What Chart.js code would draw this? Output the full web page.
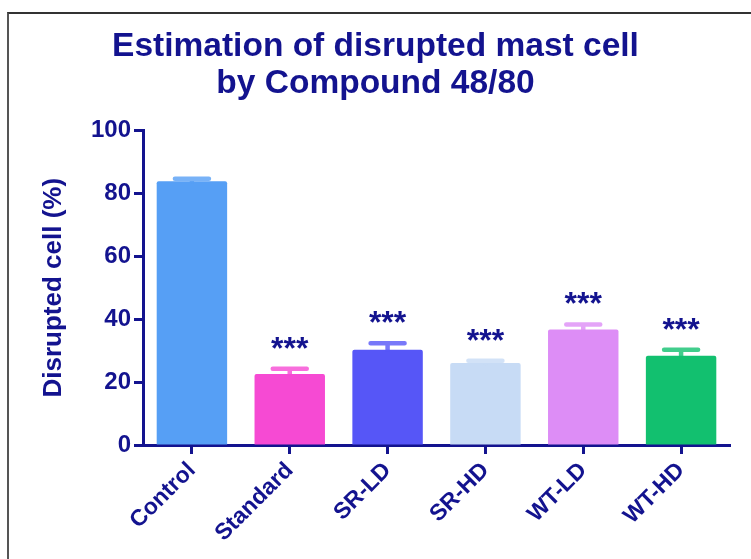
<!DOCTYPE html>
<html>
<head>
<meta charset="utf-8">
<script src="https://cdn.jsdelivr.net/npm/chart.js@4/dist/chart.umd.min.js"></script>
<style>
  html, body { margin: 0; padding: 0; background: #fff; }
  #wrap { position: relative; width: 751px; height: 559px; overflow: hidden; }
  #frame { position: absolute; left: 7px; top: 12px; width: 800px; height: 600px;
           border-left: 2px solid #555; border-top: 2px solid #333; }
  canvas { position: absolute; left: 0; top: 0; }
</style>
</head>
<body>
<div id="wrap">
  <div id="frame"></div>
  <canvas id="chart" width="751" height="559"></canvas>
</div>
<script>
// data
const groups = ["Control", "Standard", "SR-LD", "SR-HD", "WT-LD", "WT-HD"];
const meanValues = [83.8, 22.6, 30.3, 26.1, 36.7, 28.4];
const semValues = [0.8, 1.6, 2.0, 0.7, 1.6, 1.9];
const stars = ["", "***", "***", "***", "***", "***"];
const yTicks = [0, 20, 40, 60, 80, 100];

const NAVY = "#13138f";
const barColors = ["#569ff5", "#f64ad3", "#5656f7", "#c7dbf5", "#dd8df6", "#12c06f"];
const FONT = "'Liberation Sans', Arial, sans-serif";

// error bars (mean + SEM) and the significance stars
const errorBars = {
    id: "errorBars",
    afterDatasetsDraw(chart) {
        const ctx = chart.ctx;
        const y = chart.scales.y;
        const meta = chart.getDatasetMeta(0);
        ctx.save();
        meta.data.forEach((bar, i) => {
            const top = y.getPixelForValue(meanValues[i] + semValues[i]);
            const base = y.getPixelForValue(meanValues[i]);
            ctx.strokeStyle = barColors[i];
            ctx.globalAlpha = 0.8;
            ctx.lineWidth = 4.5;
            ctx.lineCap = "round";
            ctx.beginPath();
            ctx.moveTo(bar.x, base);
            ctx.lineTo(bar.x, top);
            ctx.moveTo(bar.x - 17, top);
            ctx.lineTo(bar.x + 17, top);
            ctx.stroke();
            ctx.globalAlpha = 1;
            if (stars[i]) {
                ctx.fillStyle = NAVY;
                ctx.font = "bold 32px " + FONT;
                ctx.textAlign = "center";
                ctx.textBaseline = "alphabetic";
                ctx.fillText(stars[i], bar.x, top - 10);
            }
        });
        ctx.restore();
    }
};

const ctx = document.getElementById("chart").getContext("2d");
new Chart(ctx, {
    type: "bar",
    data: {
        labels: groups,
        datasets: [{
            data: meanValues,
            backgroundColor: barColors,
            borderRadius: 2,
            borderSkipped: "bottom",
            categoryPercentage: 1.0,
            barPercentage: 0.72
        }]
    },
    options: {
        responsive: false,
        animation: false,
        devicePixelRatio: 1,
        layout: { padding: 0 },
        plugins: {
            legend: { display: false },
            tooltip: { enabled: false },
            title: {
                display: true,
                text: ["Estimation of disrupted mast cell", "by Compound 48/80"],
                color: NAVY,
                font: { family: FONT, size: 33.5, weight: "bold", lineHeight: 1.08 },
                padding: { top: 29, bottom: 29 }
            }
        },
        scales: {
            x: {
                grid: { display: true, drawOnChartArea: false, offset: false, tickLength: 9, tickWidth: 3, tickColor: NAVY },
                border: { color: NAVY, width: 3 },
                ticks: {
                    color: NAVY,
                    font: { family: FONT, size: 23, weight: "bold" },
                    maxRotation: 45,
                    minRotation: 45,
                    padding: 3
                },
                afterFit(scale) { scale.height = 114; }
            },
            y: {
                min: 0,
                max: 100,
                afterBuildTicks(scale) { scale.ticks = yTicks.map(v => ({ value: v })); },
                grid: { display: true, drawOnChartArea: false, tickLength: 9, tickWidth: 3, tickColor: NAVY },
                border: { color: NAVY, width: 3 },
                ticks: {
                    color: NAVY,
                    font: { family: FONT, size: 24, weight: "bold" },
                    padding: 3
                },
                title: {
                    display: true,
                    text: "Disrupted cell (%)",
                    color: NAVY,
                    font: { family: FONT, size: 26, weight: "bold", lineHeight: 1.2 },
                    padding: { top: 38, bottom: 0 }
                },
                afterFit(scale) { scale.width = 143; }
            },
            // empty right-hand axis, only keeps the plot off the right edge
            yRight: {
                position: "right",
                grid: { display: false },
                border: { display: false },
                ticks: { display: false },
                afterFit(scale) { scale.width = 21; }
            }
        }
    },
    plugins: [errorBars]
});
</script>
</body>
</html>
